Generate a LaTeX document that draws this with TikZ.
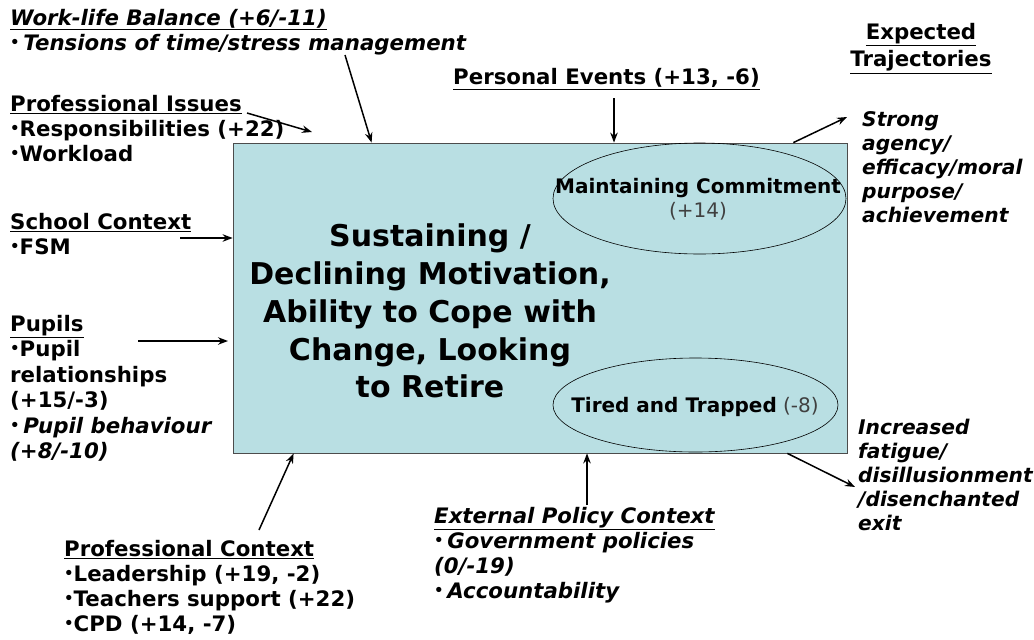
\documentclass[tikz,border=0pt]{standalone}
\usepackage{fontspec}
\setmainfont{DejaVu Sans}
\usetikzlibrary{arrows.meta,shapes.geometric,positioning}

\definecolor{boxblue}{RGB}{185,223,227}
\newcommand{\bul}{\raisebox{0.15em}{\scalebox{0.7}{•}}}

\begin{document}
\begin{tikzpicture}[x=1pt, y=-1pt,
  sidetext/.style={anchor=north west, align=left, inner sep=0pt, font=\fontsize{21.3}{25}\selectfont\bfseries },
  trajtext/.style={anchor=north west, align=left, inner sep=0pt, font=\fontsize{20.2}{24}\selectfont\bfseries\itshape },
  mainbox/.style={shape=rectangle, draw=black!70, line width=0.8, fill=boxblue, minimum width=614, minimum height=310 },
  outcome/.style={inner sep=0pt, font=\fontsize{20}{25}\selectfont },
  arr/.style={-{Stealth[length=10pt,width=7.5pt]}, line width=1.5 },
]
\useasboundingbox (0,0) rectangle (1034,640);

%CENTRAL BOX
\node[mainbox] (box) at (540,298) {};
\node[anchor=north, align=center, inner sep=0pt, font=\fontsize{30}{37.7}\selectfont\bfseries] (motiv) at (430,224)
  {Sustaining /\\Declining Motivation,\\Ability to Cope with\\Change, Looking\\to Retire};

%OUTCOMES
\node[outcome, align=center] (commit) at (698,199)
  {\textbf{Maintaining Commitment}\\[-1pt]\textcolor{black!75}{(+14)}};
\draw[line width=0.6] (699.5,198.5) ellipse [x radius=146.5pt, y radius=55.5pt];
\node[outcome] (trapped) at (695,407)
  {\textbf{Tired and Trapped} \textcolor{black!75}{(-8)}};
\draw[line width=0.6] (695.5,405) ellipse [x radius=142.5pt, y radius=47pt];

%INFLUENCES
\node[sidetext] (wlb) at (10,9)
  {\textit{\underline{Work-life Balance (+6/-11)}}\\\bul\,\textit{Tensions of time/stress management}};
\node[sidetext] (issues) at (10,95)
  {\underline{Professional Issues}\\\bul Responsibilities (+22)\\\bul Workload};
\node[sidetext] (school) at (10,213)
  {\underline{School Context}\\\bul FSM};
\node[sidetext, font=\fontsize{21.3}{25.5}\selectfont\bfseries] (pupils) at (10,315)
  {\underline{Pupils}\\\bul Pupil\\relationships\\(+15/-3)\\\bul\,\textit{Pupil behaviour}\\\textit{(+8/-10)}};
\node[sidetext] (profctx) at (64,540)
  {\underline{Professional Context}\\\bul Leadership (+19, -2)\\\bul Teachers support (+22)\\\bul CPD (+14, -7)};
\node[sidetext] (policy) at (434,507)
  {\textit{\underline{External Policy Context}}\\\bul\,\textit{Government policies}\\\textit{(0/-19)}\\\bul\,\textit{Accountability}};
\node[sidetext] (events) at (453,68)
  {\underline{Personal Events (+13, -6)}};

%TRAJECTORIES
\node[sidetext, anchor=north, align=center, font=\fontsize{21.3}{27.5}\selectfont\bfseries] (expect) at (921,23)
  {\underline{Expected}\\\underline{Trajectories}};
\node[trajtext] (strong) at (862,111)
  {Strong\\agency/\\efficacy/moral\\purpose/\\achievement};
\node[trajtext] (fatigue) at (858,419)
  {Increased\\fatigue/\\disillusionment\\/disenchanted\\exit};

%ARROWS
\coordinate (wlbfoot) at (345,55);
\coordinate (issfoot) at (247,113);
\coordinate (isstip) at (312,132);
\coordinate (evfoot) at (614,98);
\coordinate (schfoot) at (180,238);
\coordinate (pupfoot) at (138,341);
\coordinate (puptip) at (228,341);
\coordinate (ctxfoot) at (259,530);
\coordinate (polfoot) at (587,505);
\coordinate (strongtip) at (847,117);
\coordinate (fatiguetip) at (855,487);

\draw[arr] (wlbfoot) -- ([xshift=139pt]box.north west);
\draw[arr] (issfoot) -- (isstip);
\draw[arr] (evfoot) -- (evfoot |- box.north);
\draw[arr] (schfoot) -- (schfoot -| box.west);
\draw[arr] (pupfoot) -- (puptip);
\draw[arr] (ctxfoot) -- ([xshift=61pt]box.south west);
\draw[arr] (polfoot) -- (polfoot |- box.south);
\draw[arr] ([xshift=-54pt]box.north east) -- (strongtip);
\draw[arr] ([xshift=-60pt]box.south east) -- (fatiguetip);

\end{tikzpicture}
\end{document}
